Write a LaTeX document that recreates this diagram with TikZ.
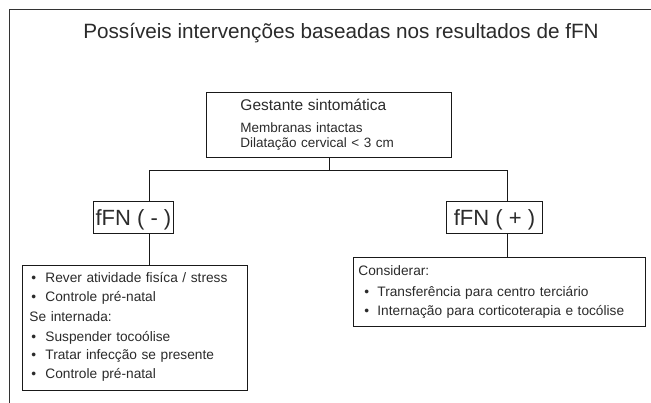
\documentclass[tikz,border=0pt]{standalone}
\usepackage{fontspec}
\setmainfont{Liberation Sans}
\definecolor{ink}{HTML}{2B2B2B}
\tikzset{
  box/.style={draw=black!90, line width=0.9pt, text=ink, inner ysep=0pt},
  lnk/.style={draw=black!90, line width=0.9pt},
  fbox/.style={box, minimum height=32pt, inner sep=0pt, font=\fontsize{22}{22}\selectfont, text height=15.8pt, text depth=0pt, anchor=north west},
  listfont/.style={font=\fontsize{13.7}{18.5}\selectfont}
}
\newcommand{\bulA}{\hspace*{2pt}\makebox[14pt][l]{\textbullet}}
\newcommand{\bulB}{\hspace*{6pt}\makebox[13pt][l]{\textbullet}}
\begin{document}
\begin{tikzpicture}[x=1pt,y=-1pt]
\fill[white] (0,0) rectangle (651,403);
\useasboundingbox (0,0) rectangle (651,403);
% frame
\draw[line width=1.6pt, black!80] (9.5,403) -- (9.5,9.5) -- (651,9.5);
% title
\node[text=ink, font=\fontsize{20.7}{24}\selectfont, anchor=base] (title) at (341,39) {Possíveis intervenções baseadas nos resultados de fFN};
% top box
\node[box, anchor=north west, minimum height=65pt, inner xsep=34pt, text width=177pt, align=left, font=\fontsize{13.5}{15}\selectfont] (gest) at (206,92)
  {{\fontsize{15.5}{15}\selectfont Gestante sintomática}\\[7pt]Membranas intactas\\Dilatação cervical < 3 cm};
% fFN boxes
\node[fbox, minimum width=80pt] (fneg) at (93,201) {fFN ( - )};
\node[fbox, minimum width=96pt] (fpos) at (446,201) {fFN ( + )};
% result boxes
\node[box, listfont, anchor=north west, minimum height=125pt, inner xsep=7pt, text width=211pt, align=left] (negbox) at (22,265)
  {\bulA Rever atividade fisíca / stress\\
   \bulA Controle pré-natal\\[1.5pt]
   Se internada:\\[1.5pt]
   \bulA Suspender tocoólise\\
   \bulA Tratar infecção se presente\\
   \bulA Controle pré-natal\rule[-5pt]{0pt}{5pt}};
\node[box, listfont, anchor=north west, minimum height=69pt, inner xsep=5pt, text width=282pt, align=left] (posbox) at (353,257)
  {Considerar:\\[3pt]
   \bulB Transferência para centro terciário\\
   \bulB Internação para corticoterapia e tocólise};
% connectors
\coordinate (lx) at (149,170);
\coordinate (rx) at (507,170);
\draw[lnk] (gest.south) -- (gest.south |- lx);
\draw[lnk] (fneg.north -| lx) -- (lx) -- (rx) -- (fpos.north -| rx);
\draw[lnk] (fneg.south -| lx) -- (negbox.north -| lx);
\draw[lnk] (fpos.south -| rx) -- (posbox.north -| rx);
\end{tikzpicture}
\end{document}
